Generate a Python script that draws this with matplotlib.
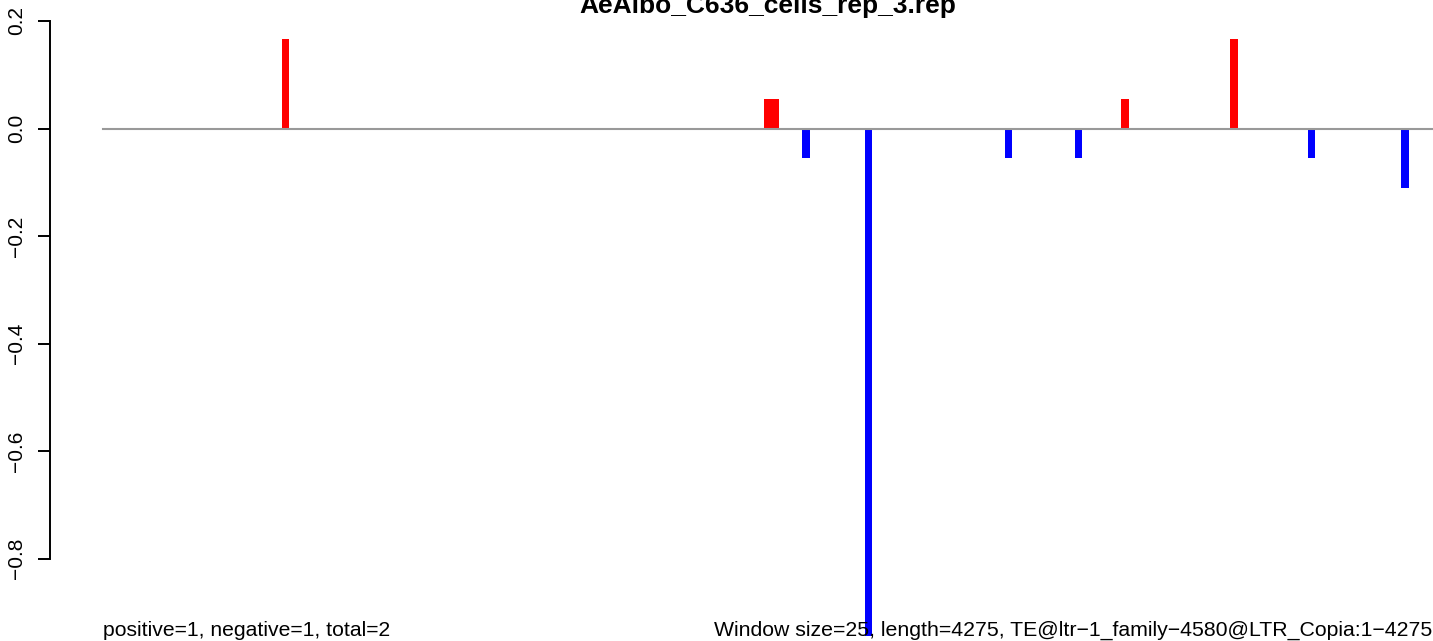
import matplotlib
matplotlib.use("Agg")
import matplotlib.pyplot as plt

plt.rcParams['font.family'] = ['Liberation Sans', 'DejaVu Sans']

title = "AeAlbo_C636_cells_rep_3.rep"
window = 25
length = 4275

# window start positions and normalised counts
pos_starts = [575, 2125, 2150, 3275, 3625]
pos_values = [0.1667, 0.0556, 0.0556, 0.0556, 0.1667]
neg_starts = [2250, 2450, 2900, 3125, 3875, 4175]
neg_values = [-0.0556, -0.9444, -0.0556, -0.0556, -0.0556, -0.1111]

yticks = [0.2, 0.0, -0.2, -0.4, -0.6, -0.8]
left_note = "positive=1, negative=1, total=2"
right_note = "Window size=25, length=4275, TE@ltr\u22121_family\u22124580@LTR_Copia:1\u22124275"

fig = plt.figure(figsize=(14.33, 6.41), dpi=100)
ax = fig.add_axes([0, 0, 1, 1])

ax.axhline(0, xmin=103 / 1433, xmax=1, color="#999999", lw=1.5, zorder=3)
ax.bar(pos_starts, pos_values, width=window, align="edge", color="#FF0000", lw=0, zorder=2)
ax.bar(neg_starts, neg_values, width=window, align="edge", color="#0000FF", lw=0, zorder=2)

ax.set_xlim(-331, 4278)
ax.set_ylim(-0.953, 0.239)

for s in ["top", "right", "bottom"]:
    ax.spines[s].set_visible(False)
ax.spines["left"].set_position(("data", -170))
ax.spines["left"].set_bounds(-0.8, 0.2)
ax.spines["left"].set_linewidth(1.4)
ax.set_xticks([])
ax.set_yticks(yticks)
ax.set_yticklabels([f"{v:.1f}".replace("-", "\u2212") for v in yticks],
                   rotation=90, va="center", fontsize=15)
ax.tick_params(axis="y", length=9, width=1.4, pad=8)

ax.text(0.5 * length, 0.2149, title, ha="center", va="baseline",
        fontsize=19, fontweight="bold")
ax.text(0, -0.944, left_note, ha="left", va="baseline", fontsize=15.2)
ax.text(length, -0.944, right_note, ha="right", va="baseline", fontsize=15.3)

fig.savefig("out.png", dpi=100)
